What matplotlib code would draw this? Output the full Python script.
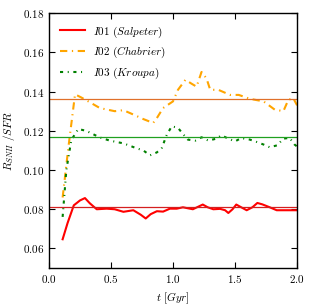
import numpy as np
import matplotlib
matplotlib.use('Agg')
import matplotlib.pyplot as plt
from matplotlib.ticker import FuncFormatter, MultipleLocator

plt.rcParams['mathtext.fontset'] = 'cm'
plt.rcParams['font.family'] = 'serif'
plt.rcParams['font.size'] = 8

# Salpeter (I01)
t_sal = [0.11, 0.15, 0.2, 0.25, 0.29, 0.33, 0.385, 0.465, 0.53, 0.6, 0.68, 0.74, 0.78, 0.82,
         0.87, 0.92, 0.975, 1.03, 1.08, 1.12, 1.16, 1.2, 1.24, 1.28, 1.325, 1.38, 1.42, 1.446,
         1.48, 1.51, 1.55, 1.594, 1.64, 1.68, 1.72, 1.78, 1.836, 1.9, 2.0]
r_sal = [0.0647, 0.073, 0.082, 0.0845, 0.0857, 0.083, 0.080, 0.0803, 0.080, 0.0787, 0.0795, 0.0772,
         0.0753, 0.0775, 0.079, 0.0788, 0.0803, 0.0803, 0.081, 0.0805, 0.080, 0.0812, 0.0824, 0.081,
         0.080, 0.0802, 0.0795, 0.0781, 0.080, 0.0824, 0.081, 0.0795, 0.081, 0.0832, 0.0825, 0.081,
         0.0795, 0.0795, 0.0795]

# Chabrier (I02)
t_cha = [0.11, 0.156, 0.21, 0.26, 0.317, 0.41, 0.53, 0.6, 0.68, 0.76, 0.84, 0.87, 0.92, 1.0,
         1.04, 1.10, 1.15, 1.19, 1.23, 1.27, 1.30, 1.365, 1.46, 1.53, 1.62, 1.73, 1.82, 1.89,
         1.93, 1.97, 2.0]
r_cha = [0.086, 0.1113, 0.1386, 0.137, 0.135, 0.1316, 0.130, 0.1305, 0.1283, 0.126, 0.124, 0.1265,
         0.1316, 0.135, 0.1409, 0.146, 0.144, 0.1425, 0.150, 0.1467, 0.1409, 0.1409, 0.1383, 0.1383,
         0.1363, 0.135, 0.1308, 0.130, 0.1358, 0.1366, 0.133]

# Kroupa (I03)
t_kro = [0.11, 0.14, 0.18, 0.236, 0.30, 0.41, 0.49, 0.6, 0.71, 0.76, 0.815, 0.87, 0.91, 0.95,
         0.99, 1.04, 1.08, 1.12, 1.18, 1.23, 1.285, 1.35, 1.39, 1.446, 1.5, 1.55, 1.62, 1.675,
         1.73, 1.78, 1.84, 1.89, 1.94, 1.98, 2.0]
r_kro = [0.0761, 0.100, 0.1153, 0.1209, 0.120, 0.1166, 0.115, 0.1136, 0.111, 0.110, 0.1075, 0.109,
         0.1113, 0.118, 0.1223, 0.1215, 0.1184, 0.1155, 0.115, 0.1167, 0.115, 0.116, 0.1177, 0.116,
         0.1146, 0.1163, 0.1155, 0.1143, 0.113, 0.1116, 0.1126, 0.116, 0.1164, 0.113, 0.112]

# mean levels
mean_sal = 0.0812
mean_cha = 0.1361
mean_kro = 0.1167

fig = plt.figure(figsize=(3.13, 3.05), dpi=100)
ax = fig.add_axes([0.1565, 0.121, 0.7925, 0.836])

ax.plot(t_sal, r_sal, color='red', lw=1.5, label=r'$I01\ (Salpeter)$')
ax.plot(t_cha, r_cha, color='orange', lw=1.5, linestyle=(0, (3.5, 2.2, 0.6, 2.2)), label=r'$I02\ (Chabrier)$')
ax.plot(t_kro, r_kro, color='green', lw=1.5, linestyle=(0, (1.5, 2.2, 0.5, 2.2)), label=r'$I03\ (Kroupa)$')

ax.axhline(mean_sal, color='#d42020', lw=0.9)
ax.axhline(mean_cha, color='#e0702a', lw=0.9)
ax.axhline(mean_kro, color='#20a020', lw=0.9)

ax.set_xlim(0, 2.0)
ax.set_ylim(0.05, 0.18)
ax.xaxis.set_major_locator(MultipleLocator(0.5))
ax.yaxis.set_major_locator(MultipleLocator(0.02))
ax.xaxis.set_major_formatter(FuncFormatter(lambda v, p: r'$%.1f$' % v))
ax.yaxis.set_major_formatter(FuncFormatter(lambda v, p: r'$%.2f$' % v))
ax.tick_params(direction='in', top=True, right=True, length=4, width=0.8, labelsize=8)
for s in ax.spines.values():
    s.set_linewidth(1.0)

ax.set_xlabel(r'$t\ [Gyr]$', fontsize=8)
ax.set_ylabel(r'$R_{SNII}\ /SFR$', fontsize=8)

ax.legend(loc='upper left', frameon=False, fontsize=8, handlelength=2.2, borderaxespad=0.6)

fig.savefig('out.png', dpi=100)
